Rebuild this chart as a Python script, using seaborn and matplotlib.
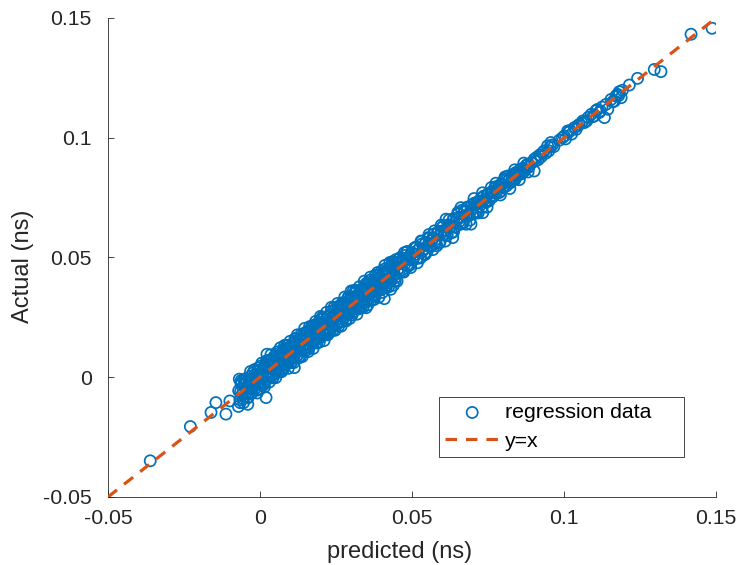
import matplotlib
matplotlib.use("Agg")
import matplotlib.pyplot as plt
import seaborn as sns
import pandas as pd

# Regression check: predicted vs. actual delay (ns)
predicted = [
    -0.0070, -0.0066, -0.0064, -0.0062, -0.0058, -0.0056, -0.0052, -0.0048, -0.0046, -0.0044,
    -0.0040, -0.0038, -0.0034, -0.0030, -0.0028, -0.0026, -0.0022, -0.0018, -0.0016, -0.0014,
    -0.0010, -0.0006, -0.0004, -0.0002, 0.0002, 0.0004, 0.0008, 0.0012, 0.0014, 0.0016,
    0.0020, 0.0024, 0.0026, 0.0028, 0.0032, 0.0036, 0.0038, 0.0040, 0.0044, 0.0048,
    0.0050, 0.0052, 0.0056, 0.0060, 0.0062, 0.0064, 0.0068, 0.0072, 0.0074, 0.0076,
    0.0080, 0.0084, 0.0086, 0.0088, 0.0092, 0.0096, 0.0098, 0.0100, 0.0104, 0.0108,
    0.0110, 0.0112, 0.0116, 0.0120, 0.0122, 0.0124, 0.0128, 0.0132, 0.0134, 0.0136,
    0.0140, 0.0144, 0.0146, 0.0148, 0.0152, 0.0156, 0.0158, 0.0160, 0.0164, 0.0168,
    0.0170, 0.0172, 0.0176, 0.0180, 0.0182, 0.0184, 0.0188, 0.0192, 0.0194, 0.0196,
    0.0200, 0.0204, 0.0206, 0.0208, 0.0212, 0.0216, 0.0218, 0.0220, 0.0224, 0.0228,
    0.0230, 0.0232, 0.0236, 0.0240, 0.0242, 0.0244, 0.0248, 0.0252, 0.0254, 0.0256,
    0.0260, 0.0264, 0.0266, 0.0268, 0.0272, 0.0276, 0.0278, 0.0280, 0.0284, 0.0288,
    0.0290, 0.0292, 0.0296, 0.0300, 0.0302, 0.0304, 0.0308, 0.0312, 0.0314, 0.0316,
    0.0320, 0.0324, 0.0326, 0.0328, 0.0332, 0.0336, 0.0338, 0.0340, 0.0344, 0.0348,
    0.0350, 0.0352, 0.0356, 0.0360, 0.0362, 0.0364, 0.0368, 0.0372, 0.0374, 0.0376,
    0.0380, 0.0384, 0.0386, 0.0388, 0.0392, 0.0396, 0.0398, 0.0400, 0.0404, 0.0408,
    0.0410, 0.0412, 0.0416, 0.0420, 0.0422, 0.0424, 0.0428, 0.0432, 0.0434, 0.0436,
    0.0440, 0.0444, 0.0446, 0.0448, 0.0452, 0.0456,
    -0.0065, -0.0060, -0.0057, -0.0053, -0.0050, -0.0045, -0.0041, -0.0036, -0.0033, -0.0029,
    -0.0024, -0.0020, -0.0015, -0.0011, -0.0008, -0.0003, 0.0001, 0.0003, 0.0007, 0.0010,
    0.0013, 0.0018, 0.0022, 0.0025, 0.0030, 0.0034, 0.0037, 0.0042, 0.0046, 0.0049,
    0.0054, 0.0058, 0.0061, 0.0066, 0.0070, 0.0073, 0.0078, 0.0082, 0.0085, 0.0090,
    0.0094, 0.0097, 0.0102, 0.0106, 0.0109, 0.0114, 0.0118, 0.0121, 0.0126, 0.0130,
    0.0133, 0.0138, 0.0142, 0.0145, 0.0150, 0.0154, 0.0157, 0.0162, 0.0166, 0.0169,
    0.0174, 0.0178, 0.0181, 0.0186, 0.0190, 0.0193, 0.0198, 0.0202, 0.0205, 0.0210,
    0.0214, 0.0217, 0.0222, 0.0226, 0.0229, 0.0234, 0.0238, 0.0241, 0.0246, 0.0250,
    0.0253, 0.0258, 0.0262, 0.0265, 0.0270, 0.0274, 0.0277, 0.0282, 0.0286, 0.0289,
    0.0294, 0.0298, 0.0301, 0.0306, 0.0310, 0.0313, 0.0318, 0.0322, 0.0325, 0.0330,
    0.0334, 0.0337, 0.0342, 0.0346, 0.0349, 0.0354, 0.0358, 0.0361, 0.0366, 0.0370,
    0.0373, 0.0378, 0.0382, 0.0385, 0.0390, 0.0394, 0.0397, 0.0402, 0.0406, 0.0409,
    0.0414, 0.0418, 0.0421, 0.0426, 0.0430, 0.0433, 0.0438, 0.0442, 0.0445, 0.0450,
    0.0454, 0.0458,
    -0.0062, -0.0054, -0.0047, -0.0039, -0.0031, -0.0026, -0.0018, -0.0009, -0.0005, 0.0000,
    0.0006, 0.0011, 0.0015, 0.0021, 0.0027, 0.0031, 0.0036, 0.0043, 0.0047, 0.0052,
    0.0057, 0.0063, 0.0067, 0.0071, 0.0077, 0.0081, 0.0087, 0.0093, 0.0099, 0.0103,
    0.0111, 0.0115, 0.0123, 0.0127, 0.0135, 0.0139, 0.0147, 0.0153, 0.0159, 0.0163,
    0.0171, 0.0175, 0.0183, 0.0187, 0.0195, 0.0199, 0.0207, 0.0211, 0.0219, 0.0223,
    0.0231, 0.0235, 0.0243, 0.0247, 0.0255, 0.0259, 0.0267, 0.0271, 0.0279, 0.0283,
    0.0291, 0.0295, 0.0303, 0.0307, 0.0315, 0.0319, 0.0327, 0.0331, 0.0339, 0.0343,
    0.0351, 0.0355, 0.0363, 0.0367, 0.0375, 0.0379, 0.0387, 0.0391, 0.0399, 0.0403,
    0.0411, 0.0415, 0.0423, 0.0427, 0.0435, 0.0439, 0.0447, 0.0451,
    0.0460, 0.0466, 0.0471, 0.0476, 0.0482, 0.0487, 0.0492, 0.0498, 0.0503, 0.0509,
    0.0514, 0.0519, 0.0525, 0.0530, 0.0535, 0.0541, 0.0546, 0.0551, 0.0557, 0.0562,
    0.0567, 0.0574, 0.0578, 0.0584, 0.0589, 0.0594, 0.0600, 0.0605, 0.0612, 0.0616,
    0.0621, 0.0627, 0.0634, 0.0638, 0.0643, 0.0649, 0.0655, 0.0661, 0.0666, 0.0671,
    0.0677, 0.0682, 0.0688, 0.0694, 0.0699, 0.0705, 0.0710, 0.0716, 0.0722, 0.0733,
    0.0728, 0.0739, 0.0745, 0.0751, 0.0757, 0.0763, 0.0769, 0.0775, 0.0781, 0.0787,
    0.0793, 0.0799, 0.0805, 0.0815, 0.0811, 0.0821, 0.0827, 0.0833, 0.0839, 0.0845,
    0.0851, 0.0857, 0.0863, 0.0870, 0.0875, 0.0880, 0.0886, 0.0902, 0.0902, 0.0893,
    0.0463, 0.0469, 0.0474, 0.0479, 0.0485, 0.0490, 0.0495, 0.0501, 0.0506, 0.0512,
    0.0517, 0.0522, 0.0528, 0.0533, 0.0538, 0.0544, 0.0549, 0.0554, 0.0560, 0.0565,
    0.0571, 0.0576, 0.0581, 0.0587, 0.0592, 0.0597, 0.0603, 0.0608, 0.0614, 0.0619,
    0.0624, 0.0630, 0.0636, 0.0641, 0.0646, 0.0652, 0.0658, 0.0663, 0.0669, 0.0674,
    0.0680, 0.0685, 0.0691, 0.0697, 0.0702, 0.0708, 0.0713, 0.0719, 0.0725, 0.0731,
    0.0736, 0.0742, 0.0748, 0.0754, 0.0760, 0.0766, 0.0772, 0.0778, 0.0784, 0.0790,
    0.0796, 0.0802, 0.0808, 0.0818, 0.0824, 0.0830, 0.0836, 0.0842, 0.0848, 0.0854,
    0.0860, 0.0866, 0.0872, 0.0878, 0.0884,
    0.0462, 0.0473, 0.0484, 0.0496, 0.0507, 0.0518, 0.0531, 0.0543, 0.0556, 0.0569,
    0.0582, 0.0596, 0.0609, 0.0622, 0.0637, 0.0651, 0.0664, 0.0678, 0.0691, 0.0704,
    0.0718, 0.0732, 0.0747, 0.0761, 0.0776, 0.0791, 0.0806, 0.0822, 0.0838, 0.0853,
    0.0868, 0.0882,
    0.0935, 0.0946, 0.0957, 0.0950, 0.0962, 0.0967, 0.1001, 0.1012, 0.1034, 0.1025,
    0.1045, 0.1067, 0.1080, 0.1100, 0.1116, 0.1133, 0.1105, 0.1138, 0.1144, 0.1166,
    0.1171, 0.1176, 0.1182, 0.1188, 0.1215, 0.1242, 0.1297, 0.1319, 0.1418, 0.1487,
    0.0905, 0.0910, 0.0915, 0.0920, 0.0925, 0.0930, 0.0940, 0.0955, 0.0985, 0.0995,
    0.1005, 0.1015, 0.1020, 0.1040, 0.1050, 0.1058, 0.1062, 0.1075, 0.1090, 0.1095,
    0.1110, 0.1120, 0.1125, 0.1155, 0.1160, 0.1180, 0.1192,
    -0.0361, -0.0229, -0.0161, -0.0145, -0.0112, -0.0099, -0.0071, -0.0040, 0.0020, 0.0023,
    -0.0068, 0.0113, 0.0300, 0.0349, 0.0409, 0.0430, 0.0475,
]

actual = [
    -0.0056, -0.0094, -0.0061, -0.0030, -0.0070, -0.0089, -0.0030, -0.0042, -0.0065, -0.0017,
    -0.0043, -0.0066, -0.0017, 0.0004, -0.0036, -0.0047, -0.0012, 0.0010, -0.0047, -0.0012,
    0.0010, -0.0022, 0.0029, -0.0026, 0.0008, -0.0005, 0.0032, -0.0025, 0.0027, 0.0045,
    0.0015, 0.0005, 0.0063, 0.0003, 0.0041, 0.0053, 0.0005, 0.0043, 0.0069, 0.0033,
    0.0082, 0.0032, 0.0054, 0.0074, 0.0032, 0.0086, 0.0079, 0.0047, 0.0108, 0.0070,
    0.0063, 0.0110, 0.0090, 0.0054, 0.0111, 0.0125, 0.0087, 0.0073, 0.0112, 0.0130,
    0.0106, 0.0093, 0.0152, 0.0106, 0.0138, 0.0093, 0.0128, 0.0157, 0.0111, 0.0149,
    0.0171, 0.0134, 0.0120, 0.0169, 0.0157, 0.0139, 0.0187, 0.0127, 0.0178, 0.0205,
    0.0169, 0.0154, 0.0198, 0.0152, 0.0192, 0.0218, 0.0182, 0.0160, 0.0212, 0.0200,
    0.0178, 0.0230, 0.0194, 0.0244, 0.0183, 0.0222, 0.0242, 0.0206, 0.0187, 0.0244,
    0.0260, 0.0230, 0.0218, 0.0250, 0.0217, 0.0279, 0.0249, 0.0241, 0.0275, 0.0224,
    0.0288, 0.0276, 0.0245, 0.0275, 0.0308, 0.0267, 0.0250, 0.0300, 0.0309, 0.0273,
    0.0292, 0.0263, 0.0328, 0.0308, 0.0285, 0.0328, 0.0304, 0.0287, 0.0329, 0.0354,
    0.0309, 0.0288, 0.0352, 0.0333, 0.0312, 0.0365, 0.0352, 0.0314, 0.0351, 0.0369,
    0.0341, 0.0321, 0.0374, 0.0392, 0.0360, 0.0349, 0.0393, 0.0341, 0.0384, 0.0406,
    0.0373, 0.0361, 0.0402, 0.0424, 0.0379, 0.0366, 0.0418, 0.0404, 0.0385, 0.0438,
    0.0405, 0.0379, 0.0428, 0.0446, 0.0412, 0.0431, 0.0403, 0.0453, 0.0468, 0.0422,
    0.0441, 0.0415, 0.0464, 0.0478, 0.0446, 0.0434,
    -0.0106, -0.0022, -0.0069, -0.0009, -0.0080, -0.0026, -0.0086, -0.0009, -0.0027, -0.0066,
    0.0017, -0.0040, -0.0003, -0.0054, 0.0025, -0.0011, 0.0046, -0.0024, 0.0023, -0.0029,
    0.0042, 0.0013, 0.0064, -0.0008, 0.0039, 0.0016, 0.0074, -0.0002, 0.0068, 0.0052,
    0.0018, 0.0098, 0.0046, 0.0092, 0.0029, 0.0087, 0.0113, 0.0058, 0.0083, 0.0133,
    0.0063, 0.0115, 0.0062, 0.0137, 0.0116, 0.0092, 0.0162, 0.0086, 0.0137, 0.0158,
    0.0088, 0.0159, 0.0133, 0.0184, 0.0122, 0.0156, 0.0191, 0.0124, 0.0191, 0.0155,
    0.0216, 0.0152, 0.0189, 0.0144, 0.0226, 0.0182, 0.0218, 0.0168, 0.0250, 0.0191,
    0.0218, 0.0178, 0.0252, 0.0241, 0.0199, 0.0275, 0.0232, 0.0197, 0.0270, 0.0260,
    0.0228, 0.0296, 0.0246, 0.0298, 0.0233, 0.0275, 0.0304, 0.0239, 0.0303, 0.0329,
    0.0273, 0.0294, 0.0336, 0.0274, 0.0323, 0.0356, 0.0289, 0.0328, 0.0285, 0.0353,
    0.0366, 0.0320, 0.0341, 0.0385, 0.0313, 0.0373, 0.0348, 0.0405, 0.0339, 0.0379,
    0.0402, 0.0337, 0.0398, 0.0362, 0.0427, 0.0387, 0.0364, 0.0428, 0.0409, 0.0451,
    0.0376, 0.0430, 0.0402, 0.0460, 0.0400, 0.0454, 0.0478, 0.0430, 0.0403, 0.0478,
    0.0451, 0.0494,
    -0.0014, -0.0106, -0.0006, -0.0085, 0.0024, -0.0066, 0.0032, -0.0066, 0.0039, -0.0049,
    0.0059, -0.0032, -0.0040, 0.0068, 0.0069, -0.0020, 0.0094, -0.0002, 0.0087, -0.0002,
    0.0106, 0.0022, 0.0123, 0.0023, 0.0033, 0.0133, 0.0132, 0.0037, 0.0150, 0.0061,
    0.0061, 0.0161, 0.0177, 0.0080, 0.0178, 0.0086, 0.0204, 0.0113, 0.0107, 0.0211,
    0.0212, 0.0120, 0.0233, 0.0143, 0.0146, 0.0254, 0.0251, 0.0153, 0.0271, 0.0177,
    0.0189, 0.0292, 0.0290, 0.0196, 0.0308, 0.0214, 0.0213, 0.0311, 0.0335, 0.0235,
    0.0336, 0.0245, 0.0260, 0.0361, 0.0363, 0.0263, 0.0378, 0.0290, 0.0292, 0.0401,
    0.0393, 0.0302, 0.0418, 0.0323, 0.0324, 0.0425, 0.0437, 0.0334, 0.0442, 0.0354,
    0.0467, 0.0373, 0.0377, 0.0479, 0.0482, 0.0384, 0.0491, 0.0401,
    0.0475, 0.0448, 0.0497, 0.0471, 0.0522, 0.0463, 0.0500, 0.0520, 0.0489, 0.0512,
    0.0544, 0.0499, 0.0537, 0.0569, 0.0527, 0.0515, 0.0564, 0.0549, 0.0581, 0.0545,
    0.0576, 0.0611, 0.0566, 0.0604, 0.0561, 0.0599, 0.0627, 0.0596, 0.0660, 0.0594,
    0.0635, 0.0629, 0.0583, 0.0663, 0.0628, 0.0659, 0.0649, 0.0708, 0.0646, 0.0689,
    0.0674, 0.0710, 0.0676, 0.0639, 0.0705, 0.0727, 0.0692, 0.0724, 0.0714, 0.0687,
    0.0748, 0.0743, 0.0731, 0.0767, 0.0753, 0.0775, 0.0759, 0.0795, 0.0783, 0.0771,
    0.0807, 0.0793, 0.0829, 0.0840, 0.0799, 0.0825, 0.0819, 0.0848, 0.0825, 0.0851,
    0.0847, 0.0869, 0.0853, 0.0861, 0.0883, 0.0889, 0.0881, 0.0910, 0.0861, 0.0895,
    0.0485, 0.0441, 0.0483, 0.0509, 0.0469, 0.0493, 0.0470, 0.0519, 0.0499, 0.0539,
    0.0496, 0.0534, 0.0498, 0.0557, 0.0535, 0.0559, 0.0523, 0.0583, 0.0549, 0.0571,
    0.0597, 0.0557, 0.0577, 0.0608, 0.0563, 0.0610, 0.0631, 0.0599, 0.0591, 0.0636,
    0.0626, 0.0603, 0.0661, 0.0627, 0.0656, 0.0682, 0.0638, 0.0668, 0.0645, 0.0693,
    0.0707, 0.0673, 0.0690, 0.0720, 0.0684, 0.0719, 0.0687, 0.0735, 0.0729, 0.0709,
    0.0756, 0.0734, 0.0762, 0.0737, 0.0769, 0.0753, 0.0790, 0.0772, 0.0796, 0.0775,
    0.0803, 0.0792, 0.0823, 0.0823, 0.0812, 0.0840, 0.0828, 0.0855, 0.0843, 0.0863,
    0.0849, 0.0872, 0.0868, 0.0886, 0.0877,
    0.0500, 0.0439, 0.0525, 0.0458, 0.0539, 0.0478, 0.0567, 0.0512, 0.0596, 0.0533,
    0.0549, 0.0635, 0.0568, 0.0657, 0.0607, 0.0688, 0.0697, 0.0639, 0.0656, 0.0746,
    0.0686, 0.0770, 0.0710, 0.0792, 0.0810, 0.0761, 0.0836, 0.0788, 0.0866, 0.0825,
    0.0894, 0.0857,
    0.0945, 0.0966, 0.0980, 0.0945, 0.0970, 0.0963, 0.1007, 0.1028, 0.1042, 0.1015,
    0.1050, 0.1063, 0.1085, 0.1091, 0.1105, 0.1084, 0.1113, 0.1139, 0.1119, 0.1153,
    0.1174, 0.1181, 0.1192, 0.1167, 0.1220, 0.1248, 0.1285, 0.1276, 0.1432, 0.1457,
    0.0902, 0.0918, 0.0908, 0.0928, 0.0920, 0.0938, 0.0935, 0.0962, 0.0990, 0.1000,
    0.0995, 0.1022, 0.1030, 0.1035, 0.1055, 0.1062, 0.1070, 0.1070, 0.1098, 0.1088,
    0.1118, 0.1112, 0.1128, 0.1160, 0.1150, 0.1176, 0.1198,
    -0.0349, -0.0206, -0.0147, -0.0106, -0.0154, -0.0099, -0.0122, -0.0113, -0.0085, 0.0096,
    -0.0008, 0.0040, 0.0360, 0.0290, 0.0328, 0.0367, 0.0520,
]

# Reference line y = x across the full axis range
ref_line = [-0.05, 0.15]

tick_values = [-0.05, 0, 0.05, 0.1, 0.15]
tick_labels = ["-0.05", "0", "0.05", "0.1", "0.15"]

x_title = "predicted (ns)"
y_title = "Actual (ns)"
series_names = ["regression data", "y=x"]

BLUE = "#0072BD"
ORANGE = "#D95319"
INK = "#262626"

sns.set_style("white")
plt.rcParams["font.family"] = ["Liberation Sans", "DejaVu Sans"]
plt.rcParams["axes.unicode_minus"] = False

df = pd.DataFrame({"predicted": predicted, "actual": actual})
line_df = pd.DataFrame({"x": ref_line, "y": ref_line})

fig = plt.figure(figsize=(7.36, 5.65), dpi=100)
ax = fig.add_axes([0.1467, 0.1204, 0.8261, 0.8478])

sns.scatterplot(data=df, x="predicted", y="actual", ax=ax, marker="o",
                s=64, facecolor="none", edgecolor=BLUE, linewidth=1.25,
                label=series_names[0], zorder=2)
sns.lineplot(data=line_df, x="x", y="y", ax=ax, color=ORANGE,
             linewidth=2.3, label=series_names[1], zorder=3)
ax.lines[-1].set_dashes([3.6, 2.8])

ax.set_xlim(-0.05, 0.15)
ax.set_ylim(-0.05, 0.15)
ax.set_xticks(tick_values)
ax.set_xticklabels(tick_labels)
ax.set_yticks(tick_values)
ax.set_yticklabels(tick_labels)

for side in ("top", "right"):
    ax.spines[side].set_visible(False)
for side in ("left", "bottom"):
    ax.spines[side].set_color(INK)
    ax.spines[side].set_linewidth(0.6)

ax.tick_params(axis="both", which="major", bottom=True, left=True,
               direction="in", length=4.5, width=0.6,
               color=INK, labelcolor=INK, labelsize=15.3)
ax.tick_params(axis="x", pad=8.5)
ax.tick_params(axis="y", pad=11.5)

ax.set_xlabel(x_title, fontsize=17, color=INK, va="center")
ax.set_ylabel(y_title, fontsize=17, color=INK, va="center")
ax.xaxis.set_label_coords(0.480, -0.1148)
ax.yaxis.set_label_coords(-0.140, 0.481)

leg = ax.legend(loc="lower left", bbox_to_anchor=(0.544, 0.0835, 0.403, 0.123),
                mode="expand", fontsize=15.3, frameon=True, fancybox=False,
                framealpha=1, edgecolor=INK, handlelength=2.55,
                handletextpad=0.25, borderpad=0.3, labelspacing=0.45,
                borderaxespad=0)
leg.get_frame().set_linewidth(0.6)
for txt in leg.get_texts():
    txt.set_color("black")

fig.savefig("out.png", dpi=100, facecolor="white")
